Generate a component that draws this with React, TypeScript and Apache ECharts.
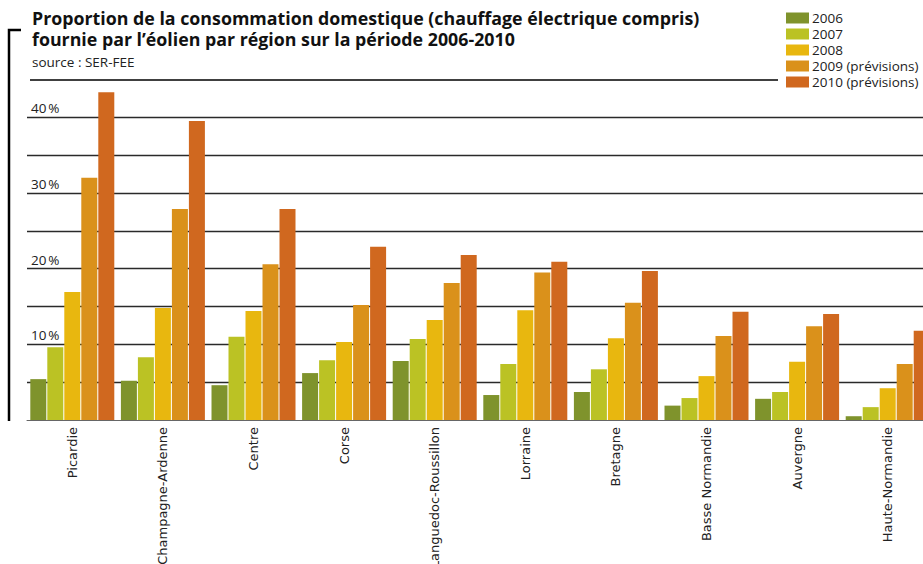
import React, { useEffect, useRef } from "react";
import * as echarts from "echarts";

// Regions, ordered as on the x axis
const regions = [
  "Picardie",
  "Champagne-Ardenne",
  "Centre",
  "Corse",
  "Languedoc-Roussillon",
  "Lorraine",
  "Bretagne",
  "Basse Normandie",
  "Auvergne",
  "Haute-Normandie",
];

// Series names (legend)
const years = ["2006", "2007", "2008", "2009 (prévisions)", "2010 (prévisions)"];

// Share of domestic consumption supplied by wind power, in %
const v2006 = [5.4, 5.2, 4.6, 6.2, 7.8, 3.3, 3.7, 1.9, 2.8, 0.5];
const v2007 = [9.6, 8.3, 11.0, 7.9, 10.7, 7.4, 6.7, 2.9, 3.7, 1.7];
const v2008 = [16.9, 14.8, 14.4, 10.3, 13.2, 14.5, 10.8, 5.8, 7.7, 4.2];
const v2009 = [32.0, 27.9, 20.6, 15.2, 18.1, 19.5, 15.5, 11.1, 12.4, 7.4];
const v2010 = [43.3, 39.5, 27.9, 22.9, 21.8, 20.9, 19.7, 14.3, 14.0, 11.8];

const seriesValues = [v2006, v2007, v2008, v2009, v2010];
const colors = ["#7f932c", "#bbc224", "#e8b70f", "#da911b", "#d0681f"];

const SANS = "'Open Sans', 'Noto Sans', sans-serif";

export default function App() {
  const ref = useRef<HTMLDivElement>(null);

  useEffect(() => {
    if (!ref.current) return;
    const chart = echarts.init(ref.current, undefined, { renderer: "svg" });
    chart.setOption({
      animation: false,
      backgroundColor: "#ffffff",
      title: {
        text: "Proportion de la consommation domestique (chauffage électrique compris)\nfournie par l’éolien par région sur la période 2006-2010",
        subtext: "source : SER-FEE",
        left: 32,
        top: 7,
        padding: 0,
        itemGap: 4,
        textStyle: {
          fontFamily: SANS,
          fontSize: 17.8,
          fontWeight: "bold",
          lineHeight: 21.5,
          color: "#111",
        },
        subtextStyle: {
          fontFamily: SANS,
          fontSize: 13.5,
          lineHeight: 16,
          color: "#222",
        },
      },
      legend: {
        orient: "vertical",
        left: 786,
        top: 10,
        padding: 0,
        itemWidth: 23,
        itemHeight: 11,
        itemGap: 0,
        icon: "rect",
        data: years,
        textStyle: {
          fontFamily: SANS,
          fontSize: 13.5,
          lineHeight: 16,
          color: "#222",
          padding: [0, 0, 0, -2],
        },
        z: 10,
      },
      grid: {
        left: 27,
        top: 79.5,
        bottom: 144,
        width: 906,
        outerBoundsMode: "none",
      },
      xAxis: {
        type: "category",
        data: regions,
        axisTick: { show: false },
        axisLine: { lineStyle: { color: "#666", width: 1 } },
        axisLabel: {
          rotate: 90,
          margin: 7,
          interval: 0,
          fontFamily: "'DejaVu Sans', Verdana, sans-serif",
          fontSize: 13,
          color: "#222",
        },
      },
      yAxis: {
        type: "value",
        min: 0,
        max: 45,
        interval: 5,
        axisLine: { show: false },
        axisTick: { show: false },
        splitLine: {
          show: true,
          showMinLine: false,
          showMaxLine: false,
          lineStyle: { color: "#2a2a2a", width: 1.4 },
        },
        axisLabel: {
          inside: true,
          margin: 4,
          verticalAlign: "bottom",
          padding: [0, 0, 2, 0],
          fontFamily: SANS,
          fontSize: 13.5,
          color: "#222",
          formatter: (v: number) => (v > 0 && v % 10 === 0 && v <= 40 ? `${v}\u202F%` : ""),
        },
      },
      series: years.map((name, i) => ({
        name,
        type: "bar",
        data: seriesValues[i],
        barWidth: 16,
        barGap: "6.25%",
        itemStyle: { color: colors[i] },
      })),
      graphic: [
        // bracket on the left side
        {
          type: "polyline",
          shape: { points: [[21, 30], [9, 30], [9, 421]] },
          style: { stroke: "#000", lineWidth: 2.5, fill: "none" },
        },
        // rule under the title block
        {
          type: "line",
          shape: { x1: 30, y1: 80, x2: 778, y2: 80 },
          style: { stroke: "#000", lineWidth: 1.3 },
        },
      ],
    });
    return () => chart.dispose();
  }, []);

  return (
    <div
      ref={ref}
      style={{ position: "fixed", left: 0, top: 0, width: 923, height: 564 }}
    />
  );
}
